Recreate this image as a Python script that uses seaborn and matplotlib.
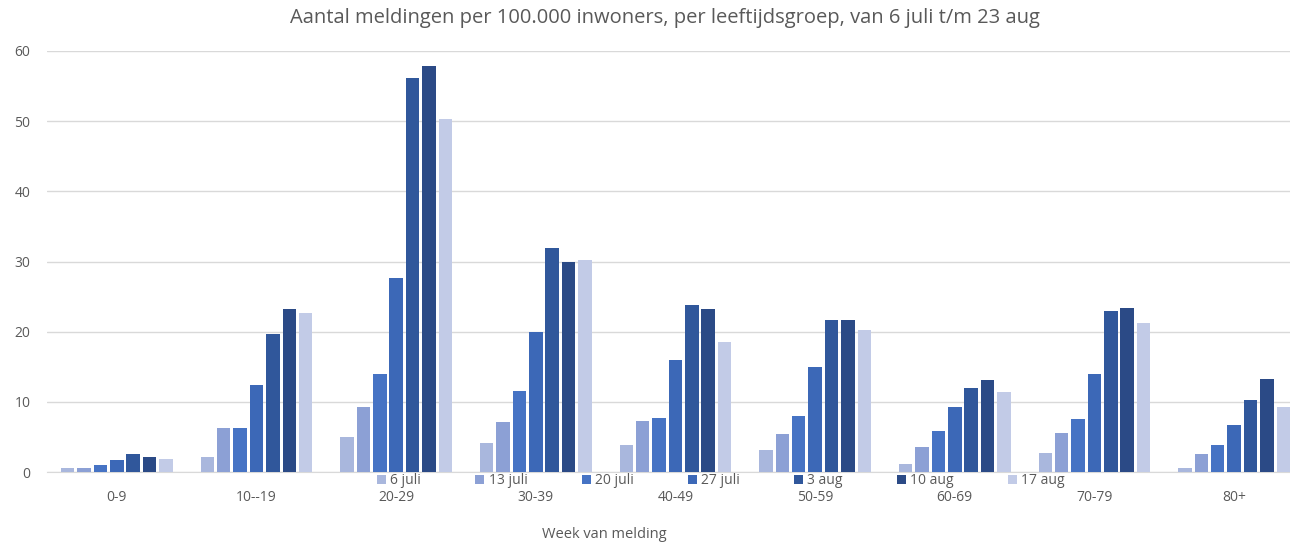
import pandas as pd
import numpy as np
import seaborn as sns
import matplotlib.pyplot as plt

# Leeftijdsgroepen en meldweken
groepen = ["0-9", "10--19", "20-29", "30-39", "40-49", "50-59", "60-69", "70-79", "80+"]
weken = ["6 juli", "13 juli", "20 juli", "27 juli", "3 aug", "10 aug", "17 aug"]

# Meldingen per 100.000 inwoners, per week
w_6jul = [0.6, 2.2, 5.0, 4.1, 3.8, 3.1, 1.2, 2.7, 0.6]
w_13jul = [0.6, 6.3, 9.2, 7.1, 7.3, 5.4, 3.6, 5.5, 2.5]
w_20jul = [0.95, 6.2, 14.0, 11.6, 7.7, 8.0, 5.8, 7.6, 3.9]
w_27jul = [1.7, 12.4, 27.7, 19.9, 16.0, 14.9, 9.3, 14.0, 6.7]
w_3aug = [2.5, 19.6, 56.1, 31.9, 23.8, 21.6, 12.0, 23.0, 10.3]
w_10aug = [2.1, 23.2, 57.9, 30.0, 23.3, 21.7, 13.1, 23.4, 13.3]
w_17aug = [1.8, 22.6, 50.3, 30.2, 18.5, 20.2, 11.4, 21.3, 9.3]

kleuren = ["#a9b7dd", "#8ca0d5", "#4673c4", "#3c68b7", "#30579b", "#2b4a86", "#c2cbe7"]

waarden = [w_6jul, w_13jul, w_20jul, w_27jul, w_3aug, w_10aug, w_17aug]
df = pd.DataFrame({
    "groep": np.tile(groepen, len(weken)),
    "week": np.repeat(weken, len(groepen)),
    "aantal": np.concatenate(waarden),
})

sns.set_style("white")
plt.rcParams["font.family"] = ["Open Sans", "DejaVu Sans"]

fig = plt.figure(figsize=(12.9, 5.47), dpi=100)
ax = fig.add_axes([47 / 1290, 1 - 472 / 547, 1 - 47 / 1290, (472 - 51) / 547])

sns.barplot(data=df, x="groep", y="aantal", hue="week", order=groepen,
            hue_order=weken, palette=kleuren, width=0.82, gap=0.18,
            saturation=1, linewidth=0, ax=ax, zorder=3)

ax.set_ylim(0, 60)
ax.set_xlim(-0.5, 8.4)
ax.set_yticks(range(0, 61, 10))
ax.yaxis.grid(True, color="#d9d9d9", lw=1, zorder=0)
ax.set_axisbelow(True)
for s in ["top", "right", "left"]:
    ax.spines[s].set_visible(False)
ax.spines["bottom"].set_color("#d9d9d9")
ax.tick_params(axis="both", length=0, colors="#595959", labelsize=10)
ax.tick_params(axis="y", pad=12)
ax.tick_params(axis="x", pad=13)
ax.set_xlabel("")
ax.set_ylabel("")

# Legenda onderaan, over de as-labels heen zoals in het origineel
handles, labels = ax.get_legend_handles_labels()
ax.get_legend().remove()
fig.legend(handles, labels, ncol=7, loc="center", bbox_to_anchor=(721 / 1290, 1 - 481 / 547),
           frameon=False, fontsize=10, handlelength=0.65, handleheight=0.65,
           handletextpad=0.3, columnspacing=3.9, labelcolor="#595959")

fig.text(665 / 1290, 1 - 18 / 547,
         "Aantal meldingen per 100.000 inwoners, per leeftijdsgroep, van 6 juli t/m 23 aug",
         ha="center", va="center", fontsize=14.5, color="#595959")
fig.text(604 / 1290, 1 - 535 / 547, "Week van melding", ha="center", va="center",
         fontsize=10.5, color="#595959")

fig.savefig("out.png", dpi=100)
